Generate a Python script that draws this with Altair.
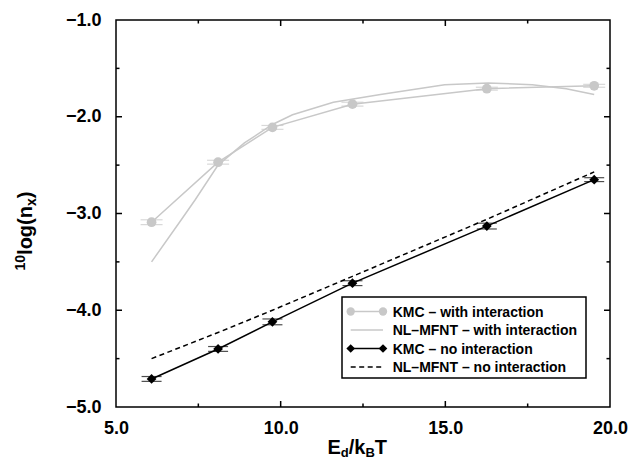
import altair as alt
import pandas as pd

# ---------------- data ----------------
kmc_x = [6.08, 8.10, 9.75, 12.18, 16.26, 19.52]
kmc_int_y = [-3.09, -2.47, -2.11, -1.87, -1.71, -1.68]
kmc_int_err = [0.025, 0.02, 0.02, 0.02, 0.015, 0.015]
kmc_noint_y = [-4.71, -4.40, -4.12, -3.72, -3.13, -2.65]
kmc_noint_err = [0.025, 0.025, 0.03, 0.025, 0.03, 0.02]

nl_int_x = [6.08, 6.95, 7.40, 8.10, 8.90, 9.75, 10.36, 11.60, 13.03, 14.98, 16.30, 17.64, 18.67, 19.52]
nl_int_y = [-3.50, -3.08, -2.86, -2.50, -2.27, -2.08, -1.98, -1.85, -1.77, -1.67, -1.65, -1.67, -1.71, -1.77]

nl_noint_x = [6.08, 8.10, 9.75, 12.18, 16.26, 19.52]
nl_noint_y = [-4.50, -4.23, -4.00, -3.65, -3.06, -2.57]

x_major = [10, 15]
x_minor = [7.5, 12.5, 17.5]
y_major = [-4, -3, -2]
y_minor = [-4.5, -3.5, -2.5, -1.5]
x_labels = [5, 10, 15, 20]
y_labels = [-5, -4, -3, -2, -1]

legend_labels = [
    "KMC \u2013 with interaction",
    "NL\u2013MFNT \u2013 with interaction",
    "KMC \u2013 no interaction",
    "NL\u2013MFNT \u2013 no interaction",
]

# ---------------- styling ----------------
GRAY = "#c8c8c8"
FONT = "Liberation Sans"
W, H = 494, 387

xs = alt.Scale(domain=[5, 20], nice=False, zero=False)
ys = alt.Scale(domain=[-5, -1], nice=False, zero=False)

x_axis = alt.Axis(values=x_labels, format=".1f", ticks=False, tickSize=0, domain=False,
                  grid=False, labelFont=FONT, labelFontWeight="bold", labelFontSize=18,
                  labelColor="black", labelPadding=12, labelFlush=False, labelOverlap=False,
                  title=None)
y_axis = alt.Axis(values=y_labels, format=".1f", ticks=False, tickSize=0, domain=False,
                  grid=False, labelFont=FONT, labelFontWeight="bold", labelFontSize=18,
                  labelColor="black", labelPadding=15, labelFlush=False, labelOverlap=False,
                  title=None)

kmc = pd.DataFrame({"x": kmc_x, "yi": kmc_int_y, "ei": kmc_int_err,
                    "yn": kmc_noint_y, "en": kmc_noint_err})
kmc["yi_lo"] = kmc["yi"] - kmc["ei"]
kmc["yi_hi"] = kmc["yi"] + kmc["ei"]
kmc["yn_lo"] = kmc["yn"] - kmc["en"]
kmc["yn_hi"] = kmc["yn"] + kmc["en"]

nl_int = pd.DataFrame({"x": nl_int_x, "y": nl_int_y})
nl_noint = pd.DataFrame({"x": nl_noint_x, "y": nl_noint_y})

X = lambda f: alt.X(f, scale=xs, axis=x_axis)
Y = lambda f: alt.Y(f, scale=ys, axis=y_axis)

layers = []

# gray NL-MFNT curve
layers.append(alt.Chart(nl_int).mark_line(color=GRAY, strokeWidth=1.5).encode(x=X("x:Q"), y=Y("y:Q")))
# gray KMC
base = alt.Chart(kmc)
layers.append(base.mark_line(color=GRAY, strokeWidth=1.5).encode(x=X("x:Q"), y=Y("yi:Q")))
layers.append(base.mark_rule(color=GRAY, strokeWidth=1.2).encode(x=X("x:Q"), y=Y("yi_lo:Q"), y2="yi_hi:Q"))
layers.append(base.mark_tick(color=GRAY, orient="horizontal", size=22, thickness=1.2).encode(x=X("x:Q"), y=Y("yi_lo:Q")))
layers.append(base.mark_tick(color=GRAY, orient="horizontal", size=22, thickness=1.2).encode(x=X("x:Q"), y=Y("yi_hi:Q")))
layers.append(base.mark_point(color=GRAY, filled=True, shape="circle", size=95, opacity=1).encode(x=X("x:Q"), y=Y("yi:Q")))

# black dashed NL-MFNT
layers.append(alt.Chart(nl_noint).mark_line(color="black", strokeWidth=1.5, strokeDash=[5, 3.5]).encode(
    x=X("x:Q"), y=Y("y:Q")))
# black KMC
layers.append(base.mark_line(color="black", strokeWidth=1.5).encode(x=X("x:Q"), y=Y("yn:Q")))
layers.append(base.mark_rule(color="black", strokeWidth=1.2).encode(x=X("x:Q"), y=Y("yn_lo:Q"), y2="yn_hi:Q"))
layers.append(base.mark_tick(color="black", orient="horizontal", size=20, thickness=1.2).encode(x=X("x:Q"), y=Y("yn_lo:Q")))
layers.append(base.mark_tick(color="black", orient="horizontal", size=20, thickness=1.2).encode(x=X("x:Q"), y=Y("yn_hi:Q")))
layers.append(base.mark_point(color="black", filled=True, shape="diamond", size=95, opacity=1).encode(x=X("x:Q"), y=Y("yn:Q")))

# inward ticks on all four sides
MAJ, MIN = 6, 3.5
for vals, ln in ((x_major, MAJ), (x_minor, MIN)):
    d = alt.Chart(pd.DataFrame({"t": vals}))
    layers.append(d.mark_rule(color="black", strokeWidth=1.5).encode(x=X("t:Q"), y=alt.value(H), y2=alt.value(H - ln)))
    layers.append(d.mark_rule(color="black", strokeWidth=1.5).encode(x=X("t:Q"), y=alt.value(0), y2=alt.value(ln)))
for vals, ln in ((y_major, MAJ), (y_minor, MIN)):
    d = alt.Chart(pd.DataFrame({"t": vals}))
    layers.append(d.mark_rule(color="black", strokeWidth=1.5).encode(y=Y("t:Q"), x=alt.value(0), x2=alt.value(ln)))
    layers.append(d.mark_rule(color="black", strokeWidth=1.5).encode(y=Y("t:Q"), x=alt.value(W), x2=alt.value(W - ln)))

# ---------------- legend ----------------
one = alt.Chart(pd.DataFrame({"a": [0]}))
LX0, LX1, LY0, LY1 = 226, 470, 277, 358
layers.append(one.mark_rect(fill="white", stroke="black", strokeWidth=1.5).encode(
    x=alt.value(LX0), x2=alt.value(LX1), y=alt.value(LY0), y2=alt.value(LY1)))
row_y0, row_dy = 291.5, 18.5
s0, s1, tx = 234.7, 267.0, 276.7
for i, lab in enumerate(legend_labels):
    ry = row_y0 + i * row_dy
    col = GRAY if i < 2 else "black"
    dash = [5, 3.5] if i == 3 else [1, 0]
    layers.append(one.mark_rule(color=col, strokeWidth=1.5, strokeDash=dash).encode(
        x=alt.value(s0), x2=alt.value(s1), y=alt.value(ry)))
    if i in (0, 2):
        shp = "circle" if i == 0 else "diamond"
        sz = 70 if i == 0 else 75
        for sx in (s0, s1):
            layers.append(one.mark_point(color=col, filled=True, shape=shp, size=sz, opacity=1).encode(
                x=alt.value(sx), y=alt.value(ry)))
    layers.append(one.mark_text(text=lab, font=FONT, fontWeight="bold", fontSize=14, align="left",
                                baseline="middle", color="black").encode(x=alt.value(tx), y=alt.value(ry + 1)))

# ---------------- axis titles (with sub/superscripts) ----------------
def txt(s, size, x, y, angle=0):
    kw = dict(text=s, font=FONT, fontWeight="bold", fontSize=size, align="left",
              baseline="alphabetic", color="black")
    if angle:
        kw["angle"] = angle
    return one.mark_text(**kw).encode(x=alt.value(x), y=alt.value(y))

# x title: E_d / k_B T
xb = 434
layers += [txt("E", 20, 211.5, xb), txt("d", 13, 224.8, xb + 3), txt("/k", 20, 232.7, xb),
           txt("B", 13, 249.4, xb + 3), txt("T", 20, 258.8, xb)]
# y title: ^10 log(n_x)  (rotated, reading bottom to top)
yb = -84
yc = 250.5
layers += [txt("10", 14, yb - 7, yc, 270), txt("log(n", 20, yb, yc - 15.6, 270),
           txt("x", 14, yb + 4, yc - 64.5, 270), txt(")", 20, yb, yc - 72.3, 270)]

chart = alt.layer(*layers).properties(
    width=W, height=H,
    padding={"left": 108, "top": 12, "right": 26, "bottom": 53},
    autosize=alt.AutoSizeParams(type="none"),
).configure_view(stroke="black", strokeWidth=1.5)

chart.save("out.html", embed_options={"renderer": "svg", "actions": False})
